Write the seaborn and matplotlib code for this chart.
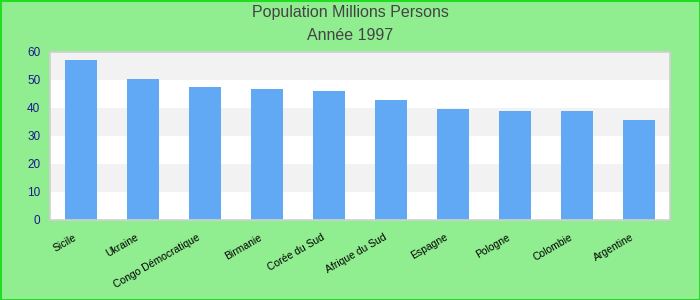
import matplotlib
matplotlib.use("Agg")
import matplotlib.pyplot as plt
import matplotlib.transforms as mtransforms
import seaborn as sns
import pandas as pd

countries = ["Sicile", "Ukraine", "Congo Démocratique", "Birmanie", "Corée du Sud",
             "Afrique du Sud", "Espagne", "Pologne", "Colombie", "Argentine"]
values = [57.0, 50.1, 47.4, 46.7, 45.9, 42.7, 39.5, 38.8, 38.8, 35.6]
title_lines = ["Population Millions Persons", "Année 1997"]
yticks = [0, 10, 20, 30, 40, 50, 60]

sns.set_theme(style="white")
plt.rcParams['font.family'] = ['Liberation Sans', 'DejaVu Sans']

df = pd.DataFrame({"country": countries, "value": values})

fig = plt.figure(figsize=(7, 3), dpi=100, facecolor="#90EE90")
ax = fig.add_axes([50/700, 1 - 220/300, 620/700, 168.5/300])
ax.set_facecolor("white")

# alternating bands
for i in range(0, 60, 10):
    if (i // 10) % 2 == 1:
        ax.axhspan(i, i + 10, color="#F2F2F2", zorder=0, lw=0)

sns.barplot(data=df, x="country", y="value", color="#62A9F5", saturation=1,
            width=0.52, ax=ax, zorder=2, linewidth=0, edgecolor="none")
ax.set_xlim(-0.5, len(countries) - 0.5)
ax.set_ylim(0, 60)
ax.set_yticks(yticks)
ax.set_yticklabels([str(t) for t in yticks], color="#1A1A8C", fontsize=8.5)
ax.set_xlabel("")
ax.set_ylabel("")
ax.tick_params(axis="y", length=0, pad=7)
ax.tick_params(axis="x", length=0, pad=6)
offset = mtransforms.ScaledTranslation(-0.08, -0.04, fig.dpi_scale_trans)
for lbl in ax.get_xticklabels():
    lbl.set_rotation(30)
    lbl.set_ha("right")
    lbl.set_rotation_mode("anchor")
    lbl.set_fontsize(7.5)
    lbl.set_color("black")
    lbl.set_transform(lbl.get_transform() + offset)
for s in ax.spines.values():
    s.set_color("#D0D0D0")
    s.set_linewidth(1.2)

fig.text(0.5, 1 - 13/300, title_lines[0], ha="center", va="center", fontsize=11.5, color="#444444")
fig.text(0.5, 1 - 35/300, title_lines[1], ha="center", va="center", fontsize=11.5, color="#444444")

border = plt.Rectangle((0.5/700, 0.5/300), 1 - 1/700, 1 - 1/300, transform=fig.transFigure,
                       fill=False, edgecolor="#22DD22", lw=1.5)
fig.patches.append(border)

fig.savefig("out.png", dpi=100, facecolor=fig.get_facecolor())
